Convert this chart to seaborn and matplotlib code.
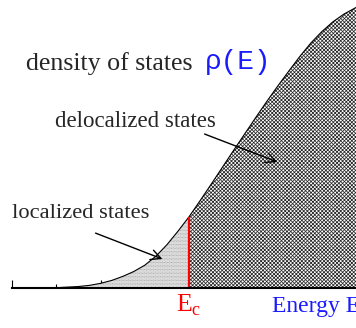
import numpy as np
import pandas as pd
import matplotlib
matplotlib.use('Agg')
import matplotlib.pyplot as plt
import seaborn as sns

# density of states (energy in tick units, rho normalised)
energy = [0.0, 0.25, 0.5, 0.75, 0.875, 1.0, 1.125, 1.25, 1.375, 1.5, 1.625, 1.75, 1.875,
          2.0, 2.125, 2.25, 2.375, 2.5, 2.625, 2.75, 2.875, 3.0, 3.125, 3.25, 3.375,
          3.5, 3.625, 3.75, 3.875, 3.9]
rho = [0.0, 0.0, 0.001, 0.005, 0.009, 0.016, 0.026, 0.040, 0.057, 0.079, 0.110, 0.150, 0.197,
       0.247, 0.303, 0.360, 0.418, 0.476, 0.533, 0.590, 0.646, 0.700, 0.752, 0.803, 0.850,
       0.890, 0.924, 0.951, 0.972, 0.976]
E_c = 2.0
major_ticks = [0, 1, 2, 3]
minor_ticks = [0.5, 1.5, 2.5, 3.5]

df = pd.DataFrame({'E': energy, 'rho': rho})

sns.set_style('white')
plt.rcParams['font.family'] = ['Liberation Serif', 'DejaVu Serif']
plt.rcParams['hatch.linewidth'] = 0.55

fig = plt.figure(figsize=(3.56, 3.28), dpi=100)
ax = fig.add_axes([0, 0, 1, 1])

loc = df[df['E'] <= E_c]
deloc = df[df['E'] >= E_c]
ax.fill_between(loc['E'], 0, loc['rho'], facecolor='white', edgecolor='#8c8c8c',
                hatch='.' * 12, linewidth=0, zorder=1)
ax.fill_between(deloc['E'], 0, deloc['rho'], facecolor='white', edgecolor='#2a2a2a',
                hatch='x' * 9, linewidth=0, zorder=1)

sns.lineplot(data=df, x='E', y='rho', color='black', linewidth=0.8, ax=ax, zorder=3)
ec_top = df.loc[df['E'] == E_c, 'rho'].iloc[0]
ax.vlines(E_c, 0, ec_top, color='red', linewidth=1.6, zorder=4)

ax.set_xlim(-0.1356, 3.887)
ax.set_ylim(-0.139, 1.0)
for s in ['top', 'right', 'left']:
    ax.spines[s].set_visible(False)
ax.spines['bottom'].set_position(('data', 0))
ax.spines['bottom'].set_bounds(0, 3.887)
ax.spines['bottom'].set_linewidth(1.5)
ax.spines['bottom'].set_color('black')
ax.spines['bottom'].set_zorder(5)
ax.set_xticks(major_ticks)
ax.set_xticks(minor_ticks, minor=True)
ax.tick_params(axis='x', which='major', direction='in', length=5.5, width=0.8,
               bottom=True, labelbottom=False, color='black')
ax.tick_params(axis='x', which='minor', direction='in', length=3, width=0.8,
               bottom=True, color='black')
ax.set_yticks([])
ax.set_xlabel('')
ax.set_ylabel('')

# labels
ax.text(0.158, 0.757, 'density of states', fontsize=18.6, ha='left', va='baseline')
ax.text(2.175, 0.785, 'ρ(E)', fontsize=20, color='#1a1aff', ha='left', va='center',
        family=['Liberation Mono', 'DejaVu Sans Mono'])
ax.text(0.486, 0.559, 'delocalized states', fontsize=16.5, ha='left', va='baseline')
ax.text(0.0, 0.243, 'localized states', fontsize=16.2, ha='left', va='baseline')
ax.text(E_c, -0.083, r'E$_\mathregular{c}$', fontsize=18.5, color='red', ha='center',
        va='baseline')
ax.text(2.94, -0.083, 'Energy E', fontsize=17, color='#1a1aff', ha='left',
        va='baseline')

ax.annotate('', xy=(3.028, 0.434), xytext=(2.147, 0.538),
            arrowprops=dict(arrowstyle='->', color='black', lw=1.0,
                            mutation_scale=18))
ax.annotate('', xy=(1.729, 0.097), xytext=(0.915, 0.194),
            arrowprops=dict(arrowstyle='->', color='black', lw=1.0,
                            mutation_scale=18))

fig.savefig('out.png', dpi=100)
